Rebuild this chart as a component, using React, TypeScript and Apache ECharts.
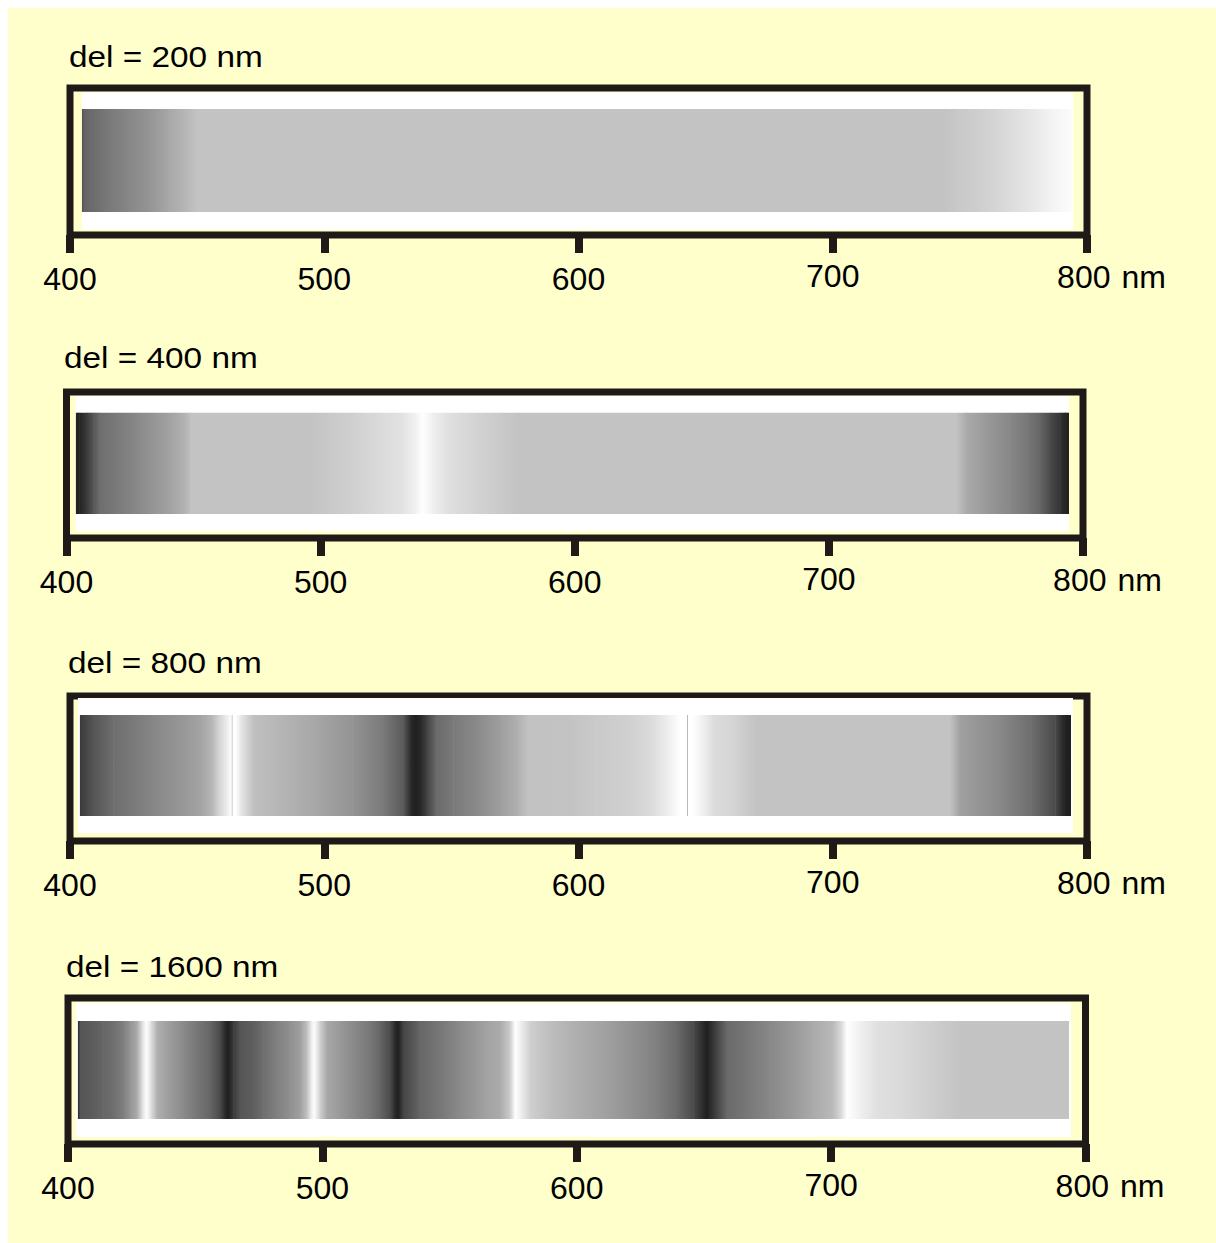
import React, { useEffect, useRef } from "react";
import * as echarts from "echarts";

// ---- data ----
const TICKS = [400, 500, 600, 700, 800];
const DELAYS = [200, 400, 800, 1600];

// spectra: wavelength (nm) and gray level (0-255)
const WL_200 = [404.7, 405.5, 408, 414, 422, 431.5, 439, 446, 450, 743.5, 748.8, 756.7, 763, 769.8, 776, 781.6, 786.7, 792, 794.2];
const GRAY_200 = [80, 100, 106, 119, 133, 149, 168, 184, 195, 195, 200, 206, 212, 220, 228, 236, 244, 250, 252];

const WL_400 = [403.7, 405, 408, 410.5, 413, 420, 427.6, 434, 442, 447, 449, 496, 502, 513, 523, 532, 537, 540, 544, 550, 560, 572, 578, 750, 754, 762, 771, 778, 783, 787, 791, 793, 794.5];
const GRAY_400 = [34, 34, 60, 85, 110, 122, 136, 149, 165, 181, 195, 195, 200, 208, 218, 226, 240, 255, 240, 224, 212, 200, 195, 195, 170, 153, 136, 119, 102, 74, 51, 34, 34];

const WL_800 = [403.9, 409, 417, 425, 435, 446, 452, 456, 458, 462, 463.4, 463.7, 464, 465, 467, 472, 480, 495.6, 511, 523, 531, 534, 536, 538, 540.4, 544, 550.7, 560, 570, 576, 580, 597, 607, 620, 629, 635, 640, 642.5, 642.8, 643.1, 645, 650.6, 653, 661, 666, 670, 746, 750, 766, 778, 787.5, 791, 793.7];
const GRAY_800 = [58, 85, 110, 122, 138, 154, 165, 184, 207, 240, 255, 170, 255, 255, 232, 192, 184, 168, 148, 122, 90, 42, 31, 42, 68, 106, 122, 138, 160, 176, 194, 195, 202, 208, 220, 238, 255, 255, 170, 255, 255, 232, 220, 212, 202, 195, 195, 160, 136, 110, 74, 34, 31];

const WL_1600 = [403.9, 404.7, 408.6, 413.8, 417.7, 421.6, 424.4, 427, 429, 430.7, 432.5, 434.9, 438.8, 445.2, 450.6, 455.8, 459.7, 461.7, 462.9, 464.9, 467.6, 472.7, 476.7, 482, 487.3, 491.2, 493.8, 495.4, 496.7, 499, 501.7, 506.9, 512, 518.7, 522.6, 526.6, 528.5, 529.7, 531.7, 538.4, 547.4, 554, 560.7, 565, 569.8, 573.7, 575.7, 578, 581.6, 588, 598.5, 611.7, 622, 631.4, 639.3, 645.8, 651, 655, 659, 666.8, 676, 685, 693, 700.8, 704.1, 706.1, 711.3, 717.9, 727, 733.6, 741.5, 751.3, 793.5];
const GRAY_1600 = [40, 85, 90, 102, 110, 126, 149, 170, 220, 255, 224, 176, 160, 138, 119, 102, 74, 42, 31, 58, 85, 94, 110, 128, 144, 160, 192, 232, 255, 208, 168, 153, 138, 119, 102, 74, 42, 31, 68, 102, 122, 138, 153, 164, 170, 204, 255, 238, 208, 192, 176, 160, 144, 128, 106, 74, 31, 68, 106, 119, 136, 153, 170, 186, 221, 255, 240, 224, 218, 212, 204, 195, 195];

const SPECTRA = [
  [WL_200, GRAY_200],
  [WL_400, GRAY_400],
  [WL_800, GRAY_800],
  [WL_1600, GRAY_1600],
];

// ---- layout / style ----
const DARK = "#1f1a17";
const BG = "#ffffcc";
const FONT = '"Liberation Sans", Arial, Helvetica, sans-serif';

const LAYOUT = [
  { x400: 70, x800: 1087, top: 88, axis: 235, grad: [109, 212], white: [92.5, 229.5], padL: 0, padR: 1, titleX: 69, titleY: 57 },
  { x400: 66.5, x800: 1083, top: 392, axis: 538, grad: [412.7, 514], white: [396, 531], padL: 0, padR: 0, titleX: 64, titleY: 358 },
  { x400: 70, x800: 1087, top: 696, axis: 841, grad: [715, 816], white: [698, 833], padL: 2, padR: 2, titleX: 68, titleY: 663 },
  { x400: 68, x800: 1085.5, top: 998, axis: 1144, grad: [1021, 1119], white: [1003, 1137], padL: 2, padR: 2, titleX: 66, titleY: 967 },
];

const gray = (g: number) => `rgb(${Math.round(g)},${Math.round(g)},${Math.round(g)})`;

function frac(L: any, y: number) {
  return (L.axis - y) / (L.axis - L.top);
}

const LBL = { fontSize: 32, fontFamily: FONT, color: "#000" };

function buildOption() {
  const grid: any[] = [];
  const xAxis: any[] = [];
  const yAxis: any[] = [];
  const series: any[] = [];
  const graphic: any[] = [
    { type: "rect", z: -10, silent: true, shape: { x: 8, y: 8, width: 1208, height: 1235 }, style: { fill: BG } },
  ];

  LAYOUT.forEach((L, i) => {
    grid.push({
      left: L.x400,
      top: L.top,
      width: L.x800 - L.x400,
      height: L.axis - L.top,
      show: true,
      borderColor: DARK,
      borderWidth: 7,
      backgroundColor: "transparent",
      containLabel: false,
    });
    xAxis.push({
      gridIndex: i,
      type: "value",
      min: TICKS[0],
      max: TICKS[TICKS.length - 1],
      interval: 100,
      axisLine: { show: false },
      splitLine: { show: false },
      axisTick: { show: true, length: 18, lineStyle: { color: DARK, width: 8, cap: "butt" } },
      axisLabel: {
        show: true,
        showMinLabel: true,
        showMaxLabel: true,
        margin: 25,
        color: "#000",
        fontSize: 32,
        fontFamily: FONT,
        formatter: (v: number) =>
          v === 800 ? `{u|${v}}{m|nm}` : v === 700 ? `{h|${v}}` : `{n|${v}}`,
        rich: {
          n: { ...LBL, lineHeight: 38 },
          h: { ...LBL, lineHeight: 32 },
          u: { ...LBL, lineHeight: 34, padding: [0, 0, 0, 49] },
          m: { ...LBL, lineHeight: 34, padding: [0, 0, 0, 11] },
        },
      },
    });
    yAxis.push({ gridIndex: i, type: "value", min: 0, max: 1, show: false });

    const [wl, gr] = SPECTRA[i];
    const segs: number[][] = [];
    for (let k = 0; k < wl.length - 1; k++) segs.push([wl[k], wl[k + 1], gr[k], gr[k + 1]]);
    const gTop = frac(L, L.grad[0]);
    const gBot = frac(L, L.grad[1]);
    const wTop = frac(L, L.white[0]);
    const wBot = frac(L, L.white[1]);
    const nSeg = segs.length;

    series.push({
      type: "custom",
      name: `white-${DELAYS[i]}`,
      xAxisIndex: i,
      yAxisIndex: i,
      z: 1,
      silent: true,
      encode: { x: [0, 1] },
      data: [[wl[0], wl[wl.length - 1]]],
      renderItem: (params: any, api: any) => {
        const p0 = api.coord([api.value(0), wTop]);
        const p1 = api.coord([api.value(1), wBot]);
        return {
          type: "rect",
          shape: { x: p0[0] - L.padL, y: p0[1], width: p1[0] - p0[0] + L.padL + L.padR, height: p1[1] - p0[1] },
          style: { fill: "#ffffff" },
        };
      },
    });

    series.push({
      type: "custom",
      name: `del = ${DELAYS[i]} nm`,
      xAxisIndex: i,
      yAxisIndex: i,
      z: 2,
      silent: true,
      encode: { x: [0, 1] },
      data: segs,
      renderItem: (params: any, api: any) => {
        const x0 = api.value(0);
        const x1 = api.value(1);
        const g0 = api.value(2);
        const g1 = api.value(3);
        const p0 = api.coord([x0, gTop]);
        const p1 = api.coord([x1, gBot]);
        const extra = params.dataIndex < nSeg - 1 ? 0.6 : 0;
        const fill =
          g0 === g1
            ? gray(g0)
            : new echarts.graphic.LinearGradient(0, 0, 1, 0, [
                { offset: 0, color: gray(g0) },
                { offset: 1, color: gray(g1) },
              ]);
        return {
          type: "rect",
          shape: { x: p0[0], y: p0[1], width: Math.max(p1[0] - p0[0], 0.2) + extra, height: p1[1] - p0[1] },
          style: { fill },
        };
      },
    });

    graphic.push({
      type: "text",
      x: L.titleX,
      y: L.titleY,
      scaleX: 1.15,
      silent: true,
      style: {
        text: `del = ${DELAYS[i]} nm`,
        fill: "#000",
        fontSize: 29,
        fontFamily: FONT,
        align: "left",
        verticalAlign: "middle",
      },
    });
  });

  return {
    animation: false,
    backgroundColor: "#ffffff",
    grid,
    xAxis,
    yAxis,
    series,
    graphic,
  };
}

export default function App() {
  const ref = useRef<HTMLDivElement>(null);
  useEffect(() => {
    if (!ref.current) return;
    const chart = echarts.init(ref.current, undefined, { renderer: "svg" });
    chart.setOption(buildOption() as any);
    return () => chart.dispose();
  }, []);
  return (
    <div
      ref={ref}
      style={{ position: "absolute", left: 0, top: 0, width: 1216, height: 1243 }}
    />
  );
}
